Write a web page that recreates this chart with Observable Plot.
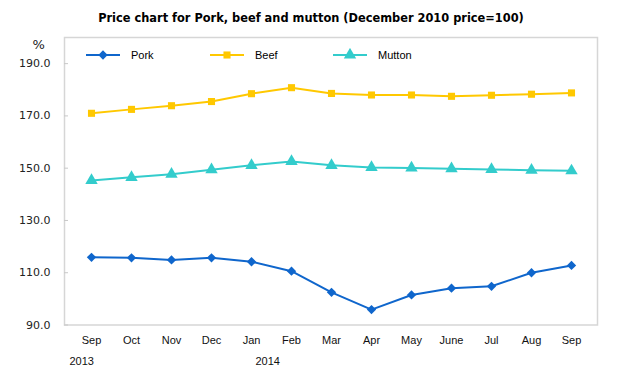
<!DOCTYPE html>
<html>
<head>
<meta charset="utf-8">
<script src="https://cdn.jsdelivr.net/npm/d3@7"></script>
<script src="https://cdn.jsdelivr.net/npm/@observablehq/plot@0.6"></script>
<style>
  body { margin: 0; background: #fff; }
  #wrap { position: relative; width: 620px; height: 373px; }
  #title { height: 30px; font: bold 11.4px "DejaVu Sans", sans-serif; line-height: 36px; text-align: center; color: #000; padding-left: 2px; }
  #legend { position: absolute; top: 48px; left: 86px; font: 11px "Liberation Sans", Arial, sans-serif; color: #000; }
  .item { position: absolute; top: 0; display: flex; align-items: center; white-space: nowrap; }
  .item svg { margin-right: 11px; }
</style>
</head>
<body>
<div id="wrap">
  <div id="title">Price chart for Pork, beef and mutton (December 2010 price=100)</div>
  <div id="chart"></div>
  <div id="legend"></div>
</div>
<script>
const monthLabels = ["Sep","Oct","Nov","Dec","Jan","Feb","Mar","Apr","May","June","Jul","Aug","Sep"];
const yearLabels = [{i: 0, t: "2013"}, {i: 4, t: "2014"}];
const pork   = [115.9,115.7,114.9,115.7,114.2,110.6,102.5,95.9,101.5,104.1,104.8,110.0,112.8];
const beef   = [171.0,172.5,173.9,175.5,178.5,180.8,178.6,178.0,178.0,177.5,177.9,178.3,178.8];
const mutton = [145.3,146.5,147.7,149.4,151.1,152.6,151.1,150.3,150.1,149.8,149.5,149.2,149.0];
const yTicks = [90,110,130,150,170,190];

const seriesInfo = [
  {name: "Pork",   values: pork,   color: "#0f66cc", symbol: "diamond2", r: 4.2},
  {name: "Beef",   values: beef,   color: "#ffc800", symbol: "square",   r: 4.0},
  {name: "Mutton", values: mutton, color: "#33cccc", symbol: "triangle", r: 4.6}
];

const rows = seriesInfo.flatMap(s => s.values.map((v, i) => ({series: s.name, i, v})));
const idx = d3.range(monthLabels.length);
const yearStyle = {x: "i", text: "t", frameAnchor: "bottom", dy: 40, textAnchor: "start",
  fontSize: 11, fontFamily: "Liberation Sans", fill: "#111"};

const marks = [
  Plot.frame({stroke: "#d6d6d6", strokeWidth: 1.5}),
  Plot.axisY({ticks: yTicks, tickFormat: d3.format(".1f"), tickSize: -4, tickPadding: 18, stroke: "#c8c8c8",
    fontSize: 11, fontFamily: "DejaVu Sans", fill: "#222", label: null}),
  Plot.axisX({tickSize: 0, tickPadding: 11, tickFormat: i => monthLabels[i], fontSize: 11,
    fontFamily: "Liberation Sans", fill: "#111", label: null}),
  Plot.text(yearLabels.slice(0, 1), {...yearStyle, dx: -22}),
  Plot.text(yearLabels.slice(1), {...yearStyle, dx: 4}),
  Plot.text(["%"], {frameAnchor: "top-left", dx: -32, dy: 2, fontSize: 13, fontFamily: "DejaVu Sans", fill: "#222"})
];
for (const s of seriesInfo) {
  const data = rows.filter(d => d.series === s.name);
  marks.push(Plot.line(data, {x: "i", y: "v", stroke: s.color, strokeWidth: 2}));
  marks.push(Plot.dot(data, {x: "i", y: "v", fill: s.color, symbol: s.symbol, r: s.r, stroke: "none"}));
}

const chart = Plot.plot({
  width: 620,
  height: 343,
  marginTop: 7,
  marginLeft: 64,
  marginRight: 23,
  marginBottom: 48.5,
  x: {type: "point", domain: idx, padding: 0.53},
  y: {domain: [90, 200]},
  style: {background: "#fff"},
  marks
});
document.getElementById("chart").appendChild(chart);

// Legend
const legend = document.getElementById("legend");
const offsets = [0, 124, 247];
seriesInfo.forEach((s, k) => {
  const div = document.createElement("div");
  div.className = "item";
  div.style.left = offsets[k] + "px";
  const svg = d3.create("svg").attr("width", 34).attr("height", 14);
  svg.append("line").attr("x1", 0).attr("x2", 34).attr("y1", 7).attr("y2", 7)
     .attr("stroke", s.color).attr("stroke-width", 2);
  const sym = {diamond2: d3.symbolDiamond2, square: d3.symbolSquare, triangle: d3.symbolTriangle}[s.symbol];
  svg.append("path").attr("transform", "translate(17,7)")
     .attr("d", d3.symbol(sym, Math.PI * s.r * s.r)()).attr("fill", s.color);
  div.appendChild(svg.node());
  const span = document.createElement("span");
  span.textContent = s.name;
  div.appendChild(span);
  legend.appendChild(div);
});
</script>
</body>
</html>
